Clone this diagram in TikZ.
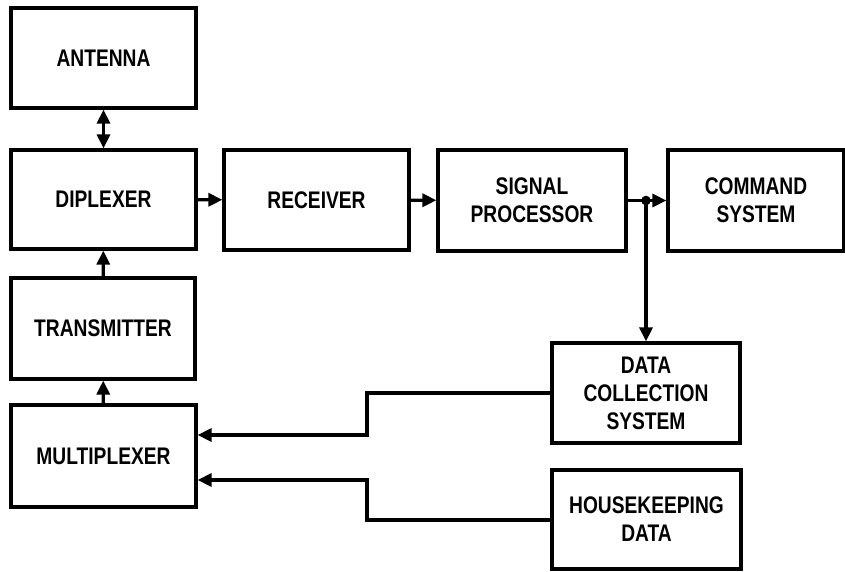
\documentclass[tikz,border=0pt]{standalone}
\usepackage{fontspec}
\setmainfont{Liberation Sans}[FakeStretch=0.8]
\usepackage{tikz}
\usetikzlibrary{arrows.meta}

\begin{document}
\begin{tikzpicture}[x=0.5pt, y=-0.5pt,
  box/.style={rectangle, draw=black, line width=1.6pt, align=center, inner sep=0pt,
    font=\fontsize{12}{14}\selectfont\bfseries},
  every path/.style={line width=1.6pt},
  tip/.style={Triangle[length=7pt,width=6.5pt]},
  sig/.style={-{Triangle[length=7pt,width=6.5pt]}}]
			\useasboundingbox (0,0) rectangle (845,572);

			\node[box, minimum width=92.5pt, minimum height=50pt] (ant) at (103.5,58){ANTENNA};
			\node[box, minimum width=92.5pt, minimum height=49.5pt] (dip) at (103.5,199.5){DIPLEXER};
			\node[box, minimum width=92.5pt, minimum height=50pt] (rcv) at (316.5,200){RECEIVER};
			\node[box, minimum width=94pt, minimum height=50.5pt] (sp) at (532,200.5){SIGNAL\\PROCESSOR};
			\node[box, minimum width=88pt, minimum height=50.5pt] (cmd) at (756,200.5){COMMAND\\SYSTEM};
			\node[box, minimum width=92pt, minimum height=50.5pt] (tx) at (103,328.5){TRANSMITTER};
			\node[box, minimum width=92.5pt, minimum height=51pt] (mux) at (103.5,456){MULTIPLEXER};
			\node[box, minimum width=94pt, minimum height=50pt] (dcs) at (646,393){DATA\\COLLECTION\\SYSTEM};
			\node[box, minimum width=94.5pt, minimum height=49.5pt] (hk) at (646.5,519.5){HOUSEKEEPING\\DATA};

			\coordinate (split) at (dcs.north |- sp.east);
			\coordinate (j1) at (367,393);
			\coordinate (j2) at (367,520);

			\draw[{Triangle[length=7pt,width=6.5pt]}-{Triangle[length=7pt,width=6.5pt]}] (ant) -- (dip);
			\draw[sig] (dip) -- (rcv);
			\draw[sig] (rcv) -- (sp);
			\draw[sig] (sp) -- (cmd);
			\fill (split) circle (2.4pt);
			\draw[sig] (split) -- (dcs.north);
			\draw[sig] (tx) -- (dip);
			\draw[sig] (mux) -- (tx);
			\draw[sig] (dcs.west |- j1) -- (j1) -- (367,435) -- (mux.east |- 0,435);
			\draw[sig] (hk.west |- j2) -- (j2) -- (367,480) -- (mux.east |- 0,480);
			\end{tikzpicture}
\end{document}
